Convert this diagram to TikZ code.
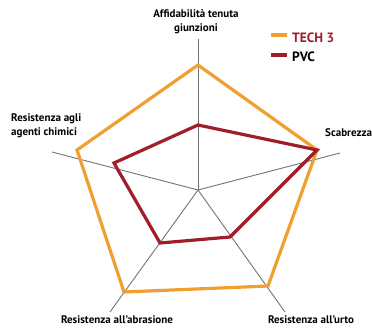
\documentclass[tikz,border=0pt]{standalone}
\usepackage{fontspec}
\setmainfont{PT Sans}
\begin{document}
\begin{tikzpicture}[x=1pt,y=-1pt,
  axis/.style={draw=gray!90!black, line width=0.9pt},
  techline/.style={draw=techc, line width=3.2pt, line join=miter},
  pvcline/.style={draw=pvcc, line width=3.2pt, line join=miter},
  lab/.style={font=\bfseries\fontsize{11}{14}\selectfont, inner sep=0pt, align=center},
  leg/.style={font=\bfseries\fontsize{13.5}{16}\selectfont, inner sep=0pt, anchor=west}]
\definecolor{techc}{HTML}{F0A030}
\definecolor{pvcc}{HTML}{A01E2A}
\useasboundingbox (0,0) rectangle (372,327);
% axes
\coordinate (c) at (198,190);
\coordinate (a1) at (198,39);
\coordinate (a2) at (340,153);
\coordinate (a3) at (285,312);
\coordinate (a4) at (110,312);
\coordinate (a5) at (52,152);
\foreach \i in {1,...,5} \draw[axis] (c) -- (a\i);
% TECH 3
\coordinate (t1) at (198,65);
\coordinate (t2) at (317,150);
\coordinate (t3) at (268,286);
\coordinate (t4) at (124,292);
\coordinate (t5) at (77,150);
\draw[techline] (t1) -- (t2) -- (t3) -- (t4) -- (t5) -- cycle;
% PVC
\coordinate (p1) at (198,125);
\coordinate (p2) at (317,150);
\coordinate (p3) at (230,237);
\coordinate (p4) at (160,243);
\coordinate (p5) at (114,163);
\draw[pvcline] (p1) -- (p2) -- (p3) -- (p4) -- (p5) -- cycle;
% labels
\node[lab] (l1) at (196,22) {Affidabilità tenuta\\giunzioni};
\node[lab, anchor=west] (l2) at (325,133) {Scabrezza};
\node[lab] (l3) at (311,320) {Resistenza all’urto};
\node[lab] (l4) at (117,320) {Resistenza all’abrasione};
\node[lab, align=left, anchor=west] (l5) at (11,126) {Resistenza agli\\agenti chimici};
% legend
\coordinate (g1a) at (271,35);
\coordinate (g1b) at (287,35);
\coordinate (g2a) at (271,55);
\coordinate (g2b) at (287,55);
\draw[techline] (g1a) -- (g1b);
\draw[pvcline] (g2a) -- (g2b);
\node[leg, text=pvcc] (lt) at (292,38) {TECH 3};
\node[leg] (lp) at (292,57) {PVC};
\end{tikzpicture}
\end{document}
